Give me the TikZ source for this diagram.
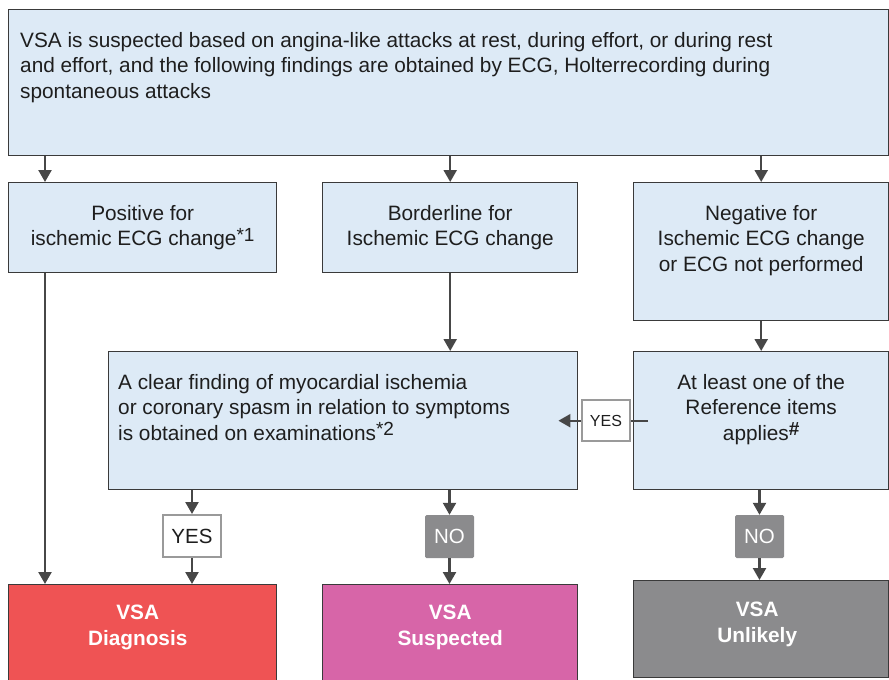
\documentclass[tikz,border=0pt]{standalone}
\usepackage{fontspec}
\setmainfont{Liberation Sans}
\usetikzlibrary{arrows.meta,calc}
\definecolor{boxblue}{HTML}{DDEAF6}
\definecolor{edge}{HTML}{3A3A3A}
\definecolor{arrowgray}{HTML}{474747}
\definecolor{vsared}{HTML}{EF5354}
\definecolor{vsapink}{HTML}{D765A8}
\definecolor{vsagray}{HTML}{8B8B8D}
\definecolor{txt}{HTML}{1E1E1E}
\definecolor{yesedge}{HTML}{9A9A9A}
\newcommand{\supmark}[1]{\raisebox{4.5pt}{\fontsize{19}{19}\selectfont #1}}
\begin{document}
\begin{tikzpicture}[x=1pt,y=-1pt,
  box/.style={draw=edge, line width=1.4pt, fill=boxblue, rectangle, inner sep=0, anchor=north west},
  outbox/.style={draw=edge, line width=1.4pt, rectangle, inner sep=0, anchor=north west},
  txtnode/.style={inner sep=0, text=txt, align=center, font=\fontsize{20.8}{25.5}\selectfont},
  outtxt/.style={inner sep=0, text=white, align=center, font=\fontsize{20.8}{26}\selectfont\bfseries},
  arr/.style={draw=arrowgray, line width=2.3pt, -{Triangle[length=12pt,width=13pt]}},
  yesbox/.style={draw=yesedge, line width=2pt, fill=white, text=txt, inner sep=0, font=\fontsize{20.5}{22}\selectfont},
  nobox/.style={fill=vsagray, rounded corners=1.5pt, text=white, inner sep=0, font=\fontsize{20.5}{22}\selectfont}
]
\useasboundingbox (0,0) rectangle (889,680);

% boxes
\node[box, minimum width=880, minimum height=146] (top) at (8,9) {};
\node[txtnode, align=left, anchor=north west] (toptext) at (20,32) {VSA is suspected based on angina-like attacks at rest, during effort, or during rest\\and effort, and the following findings are obtained by ECG, Holterrecording during\\spontaneous attacks};

\node[box, minimum width=268, minimum height=90] (b1) at (8,182) {};
\node[txtnode, anchor=north] (b1t) at ($(b1.north)+(0,23)$) {Positive for\\ischemic ECG change\supmark{*1}};

\node[box, minimum width=255, minimum height=90] (b2) at (322,182) {};
\node[txtnode, anchor=north] (b2t) at ($(b2.north)+(0,23)$) {Borderline for\\Ischemic ECG change};

\node[box, minimum width=255, minimum height=138] (b3) at (633,182) {};
\node[txtnode, anchor=north] (b3t) at ($(b3.north)+(0,23)$) {Negative for\\Ischemic ECG change\\or ECG not performed};

\node[box, minimum width=469, minimum height=138] (bA) at (108,351) {};
\node[txtnode, align=left, anchor=north west] (bAt) at (118,374) {A clear finding of myocardial ischemia\\or coronary spasm in relation to symptoms\\is obtained on examinations\supmark{*2}};

\node[box, minimum width=255, minimum height=138] (bB) at (633,351) {};
\node[txtnode, anchor=north] (bBt) at ($(bB.north)+(0,23)$) {At least one of the\\Reference items\\applies\supmark{\textbf{\#}}};

\node[outbox, fill=vsared, minimum width=268, minimum height=110] (red) at (8,584) {};
\node[outtxt, anchor=north] (redt) at ($(red.north)+(-5,21)$) {VSA\\Diagnosis};

\node[outbox, fill=vsapink, minimum width=255, minimum height=110] (pink) at (322,584) {};
\node[outtxt, anchor=north] (pinkt) at ($(pink.north)+(0,21)$) {VSA\\Suspected};

\node[outbox, fill=vsagray, minimum width=255, minimum height=97] (gray) at (633,580) {};
\node[outtxt, anchor=north] (grayt) at ($(gray.north)+(-4,22)$) {VSA\\Unlikely};

% arrows from top box
\draw[arr] ($(top.south west)+(37,0)$) -- ($(b1.north west)+(37,0)$);
\draw[arr] (b2.north |- top.south) -- (b2.north);
\draw[arr] (b3.north |- top.south) -- (b3.north);

% second row
\draw[arr] ($(b1.south west)+(37,0)$) -- ($(red.north west)+(37,0)$);
\draw[arr] (b2.south) -- (b2.south |- bA.north);
\draw[arr] (b3.south) -- (bB.north);

% YES between right and middle
\draw[arr] ($(bB.west)+(15,0)$) -- ($(bA.east)+(-20,0)$);
\node[yesbox, minimum width=48, minimum height=41] (yesm) at (606,420.5) {\fontsize{16}{18}\selectfont YES};

% decisions to outcomes
\node[yesbox, minimum width=58, minimum height=42] (yes1) at (192,536) {YES};
\node[nobox, minimum width=49, minimum height=43] (no1) at (449.5,536.5) {NO};
\node[nobox, minimum width=49, minimum height=43] (no2) at (759.5,536.5) {NO};

\draw[arr] (yes1.north |- bA.south) -- (yes1.north);
\draw[arr] (yes1.south) -- (yes1.south |- red.north);
\draw[arr] (no1.north |- bA.south) -- (no1.north);
\draw[arr] (no1.south) -- (no1.south |- pink.north);
\draw[arr] (no2.north |- bB.south) -- (no2.north);
\draw[arr] (no2.south) -- (no2.south |- gray.north);
\end{tikzpicture}
\end{document}
